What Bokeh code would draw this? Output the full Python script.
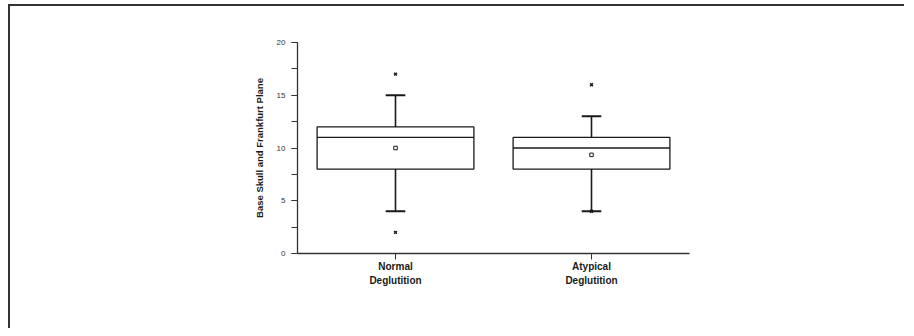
from bokeh.plotting import figure
from bokeh.models import Range1d, FixedTicker, SingleIntervalTicker, ColumnDataSource
from bokeh.embed import file_html
from bokeh.resources import INLINE

categories = ["Normal\nDeglutition", "Atypical\nDeglutition"]
lower_whisker = [4, 4]
q1 = [8, 8]
median = [11, 10]
q3 = [12, 11]
upper_whisker = [15, 13]
means = [10.0, 9.35]
outlier_cat = [0, 0, 1, 1]
outlier_val = [17, 2, 16, 4]

xs = [i + 0.5 for i in range(len(categories))]
box_w = 0.8
cap_w = 0.1

p = figure(output_backend="svg", toolbar_location=None,
           frame_width=392, frame_height=211,
           min_border_left=287, min_border_top=36,
           min_border_right=215, min_border_bottom=75,
           x_range=Range1d(0, 2), y_range=Range1d(0, 20))
p.outline_line_color = None
p.grid.grid_line_color = None
p.background_fill_color = "white"
p.border_fill_color = "white"
p.styles = {"border-left": "2px solid #333", "border-top": "2px solid #333",
            "margin-left": "8px", "margin-top": "4px"}

src = ColumnDataSource(dict(
    x=xs, lw=lower_whisker, q1=q1, med=median, q3=q3, uw=upper_whisker, mean=means,
    bl=[x - box_w / 2 for x in xs], br=[x + box_w / 2 for x in xs],
    cl=[x - cap_w / 2 for x in xs], cr=[x + cap_w / 2 for x in xs]))
col = "#1a1a1a"
# whiskers
p.segment(x0="x", x1="x", y0="q3", y1="uw", source=src, line_color=col, line_width=1.6)
p.segment(x0="x", x1="x", y0="lw", y1="q1", source=src, line_color=col, line_width=1.6)
# caps
p.segment(x0="cl", x1="cr", y0="uw", y1="uw", source=src, line_color=col, line_width=2)
p.segment(x0="cl", x1="cr", y0="lw", y1="lw", source=src, line_color=col, line_width=2)
# boxes
p.quad(left="bl", right="br", bottom="q1", top="q3", source=src,
       fill_color="white", line_color=col, line_width=1.3)
# medians
p.segment(x0="bl", x1="br", y0="med", y1="med", source=src, line_color=col, line_width=1.3)
# means
p.scatter(x="x", y="mean", source=src, marker="square", size=3.5,
          fill_color="white", line_color=col, line_width=1)
# outliers
p.scatter(x=[xs[i] for i in outlier_cat], y=outlier_val, marker="x", size=4,
          line_color=col, line_width=1.5)

for ax in (p.xaxis[0], p.yaxis[0]):
    ax.axis_line_color = "#333333"
    ax.axis_line_width = 1.3
    ax.major_tick_line_color = "#333333"
    ax.minor_tick_line_color = "#333333"
    ax.major_tick_out = 6
    ax.major_tick_in = 0
    ax.minor_tick_out = 6
    ax.minor_tick_in = 0

p.yaxis.ticker = SingleIntervalTicker(interval=5, num_minor_ticks=2)
p.yaxis.major_label_text_font = "Liberation Sans"
p.yaxis.major_label_text_font_size = "8px"
p.yaxis.major_label_text_color = "#333333"
p.yaxis.major_label_standoff = 6
p.yaxis.axis_label = "Base Skull and Frankfurt Plane"
p.yaxis.axis_label_text_font = "Liberation Sans"
p.yaxis.axis_label_text_font_style = "bold"
p.yaxis.axis_label_text_font_size = "9.5px"
p.yaxis.axis_label_text_color = "#1a1a1a"
p.yaxis.axis_label_standoff = 9

p.xaxis.ticker = FixedTicker(ticks=xs)
p.xaxis.minor_tick_line_color = None
p.xaxis.major_label_overrides = {x: c for x, c in zip(xs, categories)}
p.xaxis.major_label_text_font = "Liberation Sans"
p.xaxis.major_label_text_font_style = "bold"
p.xaxis.major_label_text_font_size = "10px"
p.xaxis.major_label_text_color = "#1a1a1a"
p.xaxis.major_label_text_line_height = 1.35
p.xaxis.major_label_standoff = 1

open("out.html", "w").write(file_html(p, INLINE))
